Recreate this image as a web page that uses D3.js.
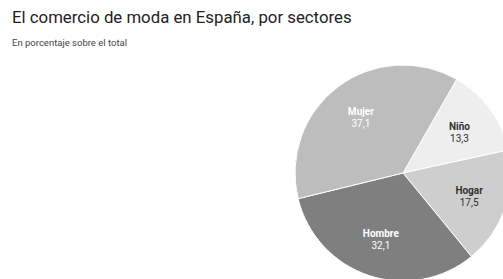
<!DOCTYPE html>
<html><head><meta charset="utf-8">
<script src="https://cdn.jsdelivr.net/npm/d3@7"></script>
<style>body{margin:0;background:#fff;}svg{display:block;font-family:Roboto,sans-serif;}</style>
</head><body>
<svg id="c" width="503" height="279"></svg>
<script>
const categories = ["Niño", "Hogar", "Hombre", "Mujer"];
const values = [13.3, 17.5, 32.1, 37.1];
const valueLabels = ["13,3", "17,5", "32,1", "37,1"];
const colors = ["#eeeeee", "#cecece", "#7f7f7f", "#bdbdbd"];
const textColors = ["#333333", "#333333", "#ffffff", "#ffffff"];

const svg = d3.select("#c");
svg.append("text").attr("x", 12).attr("y", 23).attr("font-size", 16.8).attr("fill", "#222")
  .text("El comercio de moda en España, por sectores");
svg.append("text").attr("x", 12).attr("y", 46).attr("font-size", 9.5).attr("fill", "#444")
  .text("En porcentaje sobre el total");

const cx = 403, cy = 173, R = 108;
const data = categories.map((c, i) => ({c, v: values[i], l: valueLabels[i], col: colors[i], tc: textColors[i]}));
const pie = d3.pie().value(d => d.v).sort(null).startAngle(0.52).endAngle(0.52 + 2 * Math.PI);
const arc = d3.arc().innerRadius(0).outerRadius(R);
const labelArc = d3.arc().innerRadius(70).outerRadius(70);
const g = svg.append("g").attr("transform", `translate(${cx},${cy})`);
const arcs = pie(data);
g.selectAll("path").data(arcs).join("path").attr("d", arc).attr("fill", d => d.data.col)
  .attr("stroke", "#fff").attr("stroke-width", 1);
const lab = g.selectAll("g.l").data(arcs).join("g").attr("class", "l")
  .attr("transform", d => `translate(${labelArc.centroid(d)})`);
lab.append("text").attr("text-anchor", "middle").attr("y", -2).attr("font-size", 10)
  .attr("font-weight", "bold").attr("fill", d => d.data.tc).text(d => d.data.c);
lab.append("text").attr("text-anchor", "middle").attr("y", 10).attr("font-size", 10)
  .attr("fill", d => d.data.tc).text(d => d.data.l);
</script>
</body></html>
